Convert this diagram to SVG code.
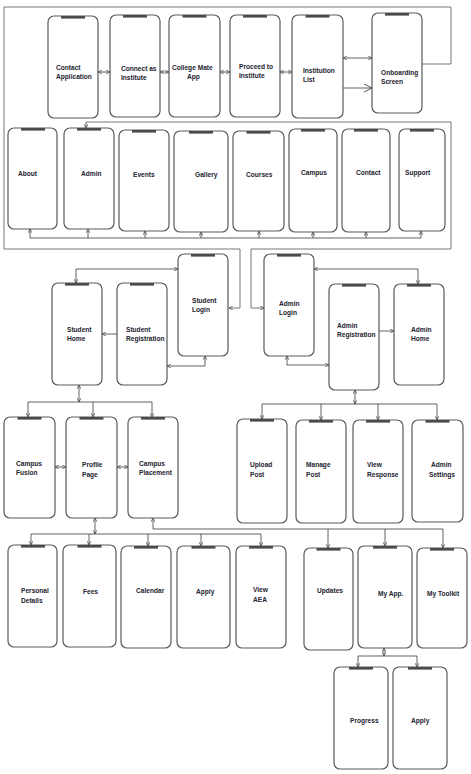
<svg xmlns="http://www.w3.org/2000/svg" width="471" height="774" viewBox="0 0 471 774">
<style>
.ph{fill:#fff;stroke:#5a5a5a;stroke-width:1.2}
.n{fill:#4a4a4a}
.t{font-family:"Liberation Sans",Arial,sans-serif;font-weight:bold;font-size:6.6px;fill:#22222e}
.c{fill:none;stroke:#3a3a3a;stroke-width:0.8}
.f{fill:none;stroke:#666;stroke-width:0.9}
.d{marker-start:url(#a);marker-end:url(#a)}
.e{marker-end:url(#a)}
</style>
<defs>
<marker id="a" viewBox="0 0 6 6" refX="5.6" refY="3" markerWidth="4.5" markerHeight="4.5" markerUnits="userSpaceOnUse" orient="auto-start-reverse">
<path d="M0.4,0.4 L5.6,3 L0.4,5.6" fill="none" stroke="#333" stroke-width="0.9"/>
</marker>
<marker id="b" viewBox="0 0 10 10" refX="9.5" refY="5" markerWidth="9" markerHeight="9" markerUnits="userSpaceOnUse" orient="auto">
<path d="M0.5,0.5 L9.5,5 L0.5,9.5" fill="none" stroke="#333" stroke-width="0.9"/>
</marker>
</defs>
<rect width="471" height="774" fill="#fff"/>

<g id="connectors">
<path class="f" d="M422,64 H451 V7 H4 V249 H240 V308 H229" style="marker-end:url(#a)"/>
<path class="f d" d="M86,128 V122 H451 V249 H251 V308 H264"/>
<path class="c d" d="M98,72 H110"/>
<path class="c d" d="M160,72 H169"/>
<path class="c d" d="M220,72 H230"/>
<path class="c d" d="M280,72 H292"/>
<path class="c d" d="M343,58 H372"/>
<path class="c" d="M343,88 H372" style="marker-end:url(#b)"/>
<path class="c" d="M30,238 H421"/>
<path class="c e" d="M30,238 V229"/>
<path class="c e" d="M88,238 V229"/>
<path class="c e" d="M145,238 V231"/>
<path class="c e" d="M201,238 V232"/>
<path class="c e" d="M259,238 V231"/>
<path class="c e" d="M313,238 V232"/>
<path class="c e" d="M366,238 V232"/>
<path class="c e" d="M421,238 V231"/>
<path class="c d" d="M178,269 H76 V283"/>
<path class="c e" d="M117,334 H102"/>
<path class="c d" d="M167,366 H205 V356"/>
<path class="c d" d="M314,269 H418 V284"/>
<path class="c d" d="M287,356 V365 H329"/>
<path class="c e" d="M379,331 H394"/>
<path class="c d" d="M79,385 V402"/>
<path class="c" d="M28,402 H152"/>
<path class="c e" d="M28,402 V417"/>
<path class="c e" d="M93,402 V417"/>
<path class="c e" d="M152,402 V417"/>
<path class="c d" d="M355,390 V404"/>
<path class="c" d="M262,404 H437"/>
<path class="c e" d="M262,404 V419"/>
<path class="c e" d="M321,404 V420"/>
<path class="c e" d="M378,404 V420"/>
<path class="c e" d="M437,404 V420"/>
<path class="c d" d="M55,467 H66"/>
<path class="c d" d="M117,467 H128"/>
<path class="c d" d="M95,518 V534"/>
<path class="c" d="M31,534 H261"/>
<path class="c e" d="M31,534 V545"/>
<path class="c e" d="M89,534 V545"/>
<path class="c e" d="M148,534 V546"/>
<path class="c e" d="M201,534 V546"/>
<path class="c e" d="M261,534 V546"/>
<path class="c" d="M153,518 V529 H443" style="marker-start:url(#a)"/>
<path class="c e" d="M328,529 V548"/>
<path class="c e" d="M385,529 V546"/>
<path class="c e" d="M443,529 V548"/>
<path class="c d" d="M384,648 V656"/>
<path class="c" d="M358,656 H417"/>
<path class="c e" d="M358,656 V667"/>
<path class="c e" d="M417,656 V667"/>
</g>

<g id="contact-application"><rect class="ph" x="48" y="16" width="50" height="102" rx="6"/><rect class="n" x="61" y="16" width="24" height="2.6"/><text class="t" x="56" y="70">Contact</text><text class="t" x="56" y="79">Application</text></g>
<g id="connect-as-institute"><rect class="ph" x="110" y="15" width="50" height="102" rx="6"/><rect class="n" x="123" y="15" width="24" height="2.6"/><text class="t" x="121" y="71">Connect as</text><text class="t" x="121" y="80">Institute</text></g>
<g id="college-mate-app"><rect class="ph" x="169" y="15" width="51" height="102" rx="6"/><rect class="n" x="182.5" y="15" width="24" height="2.6"/><text class="t" x="172" y="70">College Mate</text><text class="t" x="187" y="79">App</text></g>
<g id="proceed-to-institute"><rect class="ph" x="230" y="15" width="50" height="102" rx="6"/><rect class="n" x="243" y="15" width="24" height="2.6"/><text class="t" x="239" y="69">Proceed to</text><text class="t" x="239" y="78">Institute</text></g>
<g id="institution-list"><rect class="ph" x="292" y="15" width="51" height="103" rx="6"/><rect class="n" x="305.5" y="15" width="24" height="2.6"/><text class="t" x="303" y="73">Institution</text><text class="t" x="303" y="82">List</text></g>
<g id="onboarding-screen"><rect class="ph" x="372" y="13" width="50" height="100" rx="6"/><rect class="n" x="385" y="13" width="24" height="2.6"/><text class="t" x="381" y="75">Onboarding</text><text class="t" x="381" y="84">Screen</text></g>

<g id="about"><rect class="ph" x="8" y="128" width="49" height="101" rx="6"/><rect class="n" x="21" y="128" width="24" height="2.6"/><text class="t" x="18" y="176">About</text></g>
<g id="admin"><rect class="ph" x="64" y="128" width="50" height="101" rx="6"/><rect class="n" x="77" y="128" width="24" height="2.6"/><text class="t" x="81" y="176">Admin</text></g>
<g id="events"><rect class="ph" x="119" y="130" width="50" height="101" rx="6"/><rect class="n" x="132" y="130" width="24" height="2.6"/><text class="t" x="133" y="177">Events</text></g>
<g id="gallery"><rect class="ph" x="174" y="131" width="54" height="101" rx="6"/><rect class="n" x="189" y="131" width="24" height="2.6"/><text class="t" x="195" y="177">Gallery</text></g>
<g id="courses"><rect class="ph" x="233" y="131" width="51" height="100" rx="6"/><rect class="n" x="246.5" y="131" width="24" height="2.6"/><text class="t" x="246" y="177">Courses</text></g>
<g id="campus"><rect class="ph" x="289" y="129" width="48" height="103" rx="6"/><rect class="n" x="301" y="129" width="24" height="2.6"/><text class="t" x="301" y="175">Campus</text></g>
<g id="contact"><rect class="ph" x="342" y="129" width="48" height="103" rx="6"/><rect class="n" x="354" y="129" width="24" height="2.6"/><text class="t" x="356" y="175">Contact</text></g>
<g id="support"><rect class="ph" x="399" y="129" width="46" height="102" rx="6"/><rect class="n" x="410" y="129" width="24" height="2.6"/><text class="t" x="405" y="175">Support</text></g>

<g id="student-login"><rect class="ph" x="178" y="254" width="50" height="102" rx="6"/><rect class="n" x="191" y="254" width="24" height="2.6"/><text class="t" x="192" y="303">Student</text><text class="t" x="192" y="312">Login</text></g>
<g id="student-home"><rect class="ph" x="52" y="283" width="50" height="102" rx="6"/><rect class="n" x="65" y="283" width="24" height="2.6"/><text class="t" x="67" y="332">Student</text><text class="t" x="67" y="341">Home</text></g>
<g id="student-registration"><rect class="ph" x="117" y="283" width="50" height="102" rx="6"/><rect class="n" x="130" y="283" width="24" height="2.6"/><text class="t" x="126" y="332">Student</text><text class="t" x="126" y="341">Registration</text></g>
<g id="admin-login"><rect class="ph" x="264" y="254" width="50" height="102" rx="6"/><rect class="n" x="277" y="254" width="24" height="2.6"/><text class="t" x="279" y="306">Admin</text><text class="t" x="279" y="315">Login</text></g>
<g id="admin-registration"><rect class="ph" x="329" y="284" width="50" height="106" rx="6"/><rect class="n" x="342" y="284" width="24" height="2.6"/><text class="t" x="337" y="328">Admin</text><text class="t" x="337" y="337">Registration</text></g>
<g id="admin-home"><rect class="ph" x="394" y="284" width="50" height="101" rx="6"/><rect class="n" x="407" y="284" width="24" height="2.6"/><text class="t" x="411" y="332">Admin</text><text class="t" x="411" y="341">Home</text></g>

<g id="campus-fusion"><rect class="ph" x="4" y="417" width="51" height="101" rx="6"/><rect class="n" x="17.5" y="417" width="24" height="2.6"/><text class="t" x="16" y="466">Campus</text><text class="t" x="16" y="475">Fusion</text></g>
<g id="profile-page"><rect class="ph" x="66" y="417" width="51" height="101" rx="6"/><rect class="n" x="79.5" y="417" width="24" height="2.6"/><text class="t" x="82" y="467">Profile</text><text class="t" x="82" y="477">Page</text></g>
<g id="campus-placement"><rect class="ph" x="128" y="417" width="50" height="101" rx="6"/><rect class="n" x="141" y="417" width="24" height="2.6"/><text class="t" x="139" y="466">Campus</text><text class="t" x="139" y="475">Placement</text></g>
<g id="upload-post"><rect class="ph" x="237" y="419" width="50" height="104" rx="6"/><rect class="n" x="250" y="419" width="24" height="2.6"/><text class="t" x="250" y="467">Upload</text><text class="t" x="250" y="477">Post</text></g>
<g id="manage-post"><rect class="ph" x="296" y="420" width="50" height="103" rx="6"/><rect class="n" x="309" y="420" width="24" height="2.6"/><text class="t" x="306" y="467">Manage</text><text class="t" x="306" y="477">Post</text></g>
<g id="view-response"><rect class="ph" x="353" y="420" width="50" height="103" rx="6"/><rect class="n" x="366" y="420" width="24" height="2.6"/><text class="t" x="367" y="467">View</text><text class="t" x="367" y="477">Response</text></g>
<g id="admin-settings"><rect class="ph" x="412" y="420" width="51" height="102" rx="6"/><rect class="n" x="425.5" y="420" width="24" height="2.6"/><text class="t" x="431" y="467">Admin</text><text class="t" x="429" y="477">Settings</text></g>

<g id="personal-details"><rect class="ph" x="8" y="545" width="49" height="102" rx="6"/><rect class="n" x="21" y="545" width="24" height="2.6"/><text class="t" x="21" y="593">Personal</text><text class="t" x="21" y="603">Details</text></g>
<g id="fees"><rect class="ph" x="63" y="545" width="53" height="102" rx="6"/><rect class="n" x="77.5" y="545" width="24" height="2.6"/><text class="t" x="83" y="594">Fees</text></g>
<g id="calendar"><rect class="ph" x="121" y="546" width="50" height="102" rx="6"/><rect class="n" x="134" y="546" width="24" height="2.6"/><text class="t" x="136" y="593">Calendar</text></g>
<g id="apply"><rect class="ph" x="177" y="546" width="53" height="102" rx="6"/><rect class="n" x="191.5" y="546" width="24" height="2.6"/><text class="t" x="196" y="594">Apply</text></g>
<g id="view-aea"><rect class="ph" x="236" y="546" width="50" height="102" rx="6"/><rect class="n" x="249" y="546" width="24" height="2.6"/><text class="t" x="253" y="592">View</text><text class="t" x="253" y="602">AEA</text></g>
<g id="updates"><rect class="ph" x="304" y="548" width="49" height="102" rx="6"/><rect class="n" x="316.5" y="548" width="24" height="2.6"/><text class="t" x="317" y="593">Updates</text></g>
<g id="my-app"><rect class="ph" x="358" y="546" width="54" height="102" rx="6"/><rect class="n" x="373" y="546" width="24" height="2.6"/><text class="t" x="378" y="596">My App.</text></g>
<g id="my-toolkit"><rect class="ph" x="417" y="548" width="50" height="100" rx="6"/><rect class="n" x="430" y="548" width="24" height="2.6"/><text class="t" x="427" y="596">My Toolkit</text></g>

<g id="progress"><rect class="ph" x="334" y="667" width="54" height="102" rx="6"/><rect class="n" x="349" y="667" width="24" height="2.6"/><text class="t" x="350" y="723">Progress</text></g>
<g id="apply-2"><rect class="ph" x="393" y="667" width="54" height="102" rx="6"/><rect class="n" x="408" y="667" width="24" height="2.6"/><text class="t" x="411" y="723">Apply</text></g>
</svg>
